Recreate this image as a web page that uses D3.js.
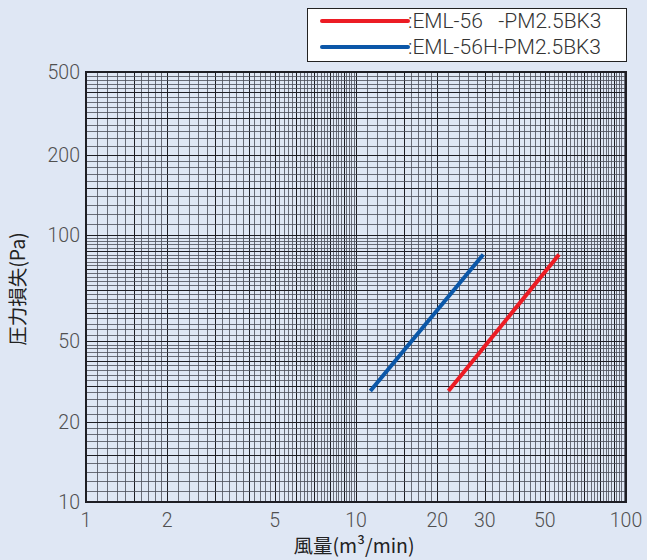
<!DOCTYPE html>
<html>
<head>
<meta charset="utf-8">
<script src="https://cdn.jsdelivr.net/npm/d3@7"></script>
<style>
  html, body { margin: 0; padding: 0; background: #dfe7f4; }
  svg { display: block; }
  .tick-label { font-family: Roboto, "Noto Sans", sans-serif; font-weight: 300; font-size: 19.5px; fill: #505050; }
  .axis-title { font-family: "Noto Sans CJK JP", sans-serif; font-size: 19.5px; fill: #222; }
  .legend-text { font-family: Roboto, "Noto Sans", sans-serif; font-weight: 300; font-size: 21px; fill: #333; }
</style>
</head>
<body>
<script>
// chart values
const xTicks = [1, 2, 5, 10, 20, 30, 50, 100]
const yTicks = [10, 20, 50, 100, 200, 500]
const seriesNames = [':EML-56\u00a0\u00a0\u00a0-PM2.5BK3', ':EML-56H-PM2.5BK3']
const seriesColors = ['#ec1c24', '#0b57a8']
const redFlow = [22.0, 56.5]
const redLoss = [28.4, 88]
const blueFlow = [11.3, 29.6]
const blueLoss = [28.4, 88]

const w = 647
const h = 560
const plotL = 86, plotR = 626, plotT = 72, plotB = 502

const svg = d3.select('body').append('svg')
    .attr('width', w)
    .attr('height', h)

svg.append('rect')
    .attr('width', w)
    .attr('height', h)
    .attr('fill', '#dfe7f4')

const x = d3.scaleLog()
    .domain([1, 100])
    .range([plotL, plotR])

// the printed paper is not quite even, so the y axis follows the labels
const y = d3.scaleLog()
    .domain(yTicks)
    .range([502, 422, 341, 235, 155, 72])

// graph paper lines
const paper = (lo, hi) => {
    const out = []
    for (let d = lo; d < hi; d *= 10) {
        for (let v = 1; v < 2 - 1e-9; v += 0.1) out.push({ v: +(v * d).toPrecision(4), m: Math.abs(v * 2 - Math.round(v * 2)) < 1e-6 })
        for (let v = 2; v < 10 - 1e-9; v += 0.2) out.push({ v: +(v * d).toPrecision(4), m: Math.abs(v * 2 - Math.round(v * 2)) < 1e-6 })
    }
    return out.filter(o => o.v > lo && o.v < hi)
}

const grid = svg.append('g')

grid.selectAll('.vx')
    .data(paper(1, 100))
    .enter()
    .append('line')
    .attr('x1', d => Math.round(x(d.v)) + 0.5)
    .attr('x2', d => Math.round(x(d.v)) + 0.5)
    .attr('y1', plotT)
    .attr('y2', plotB)
    .attr('stroke', d => d.m ? '#1e1e24' : '#4a4e58')
    .attr('stroke-opacity', d => d.m ? 1 : 0.8)
    .attr('stroke-width', 1)

grid.selectAll('.hy')
    .data(paper(10, 500))
    .enter()
    .append('line')
    .attr('y1', d => Math.round(y(d.v)) + 0.5)
    .attr('y2', d => Math.round(y(d.v)) + 0.5)
    .attr('x1', plotL)
    .attr('x2', plotR)
    .attr('stroke', d => d.m ? '#1e1e24' : '#4a4e58')
    .attr('stroke-opacity', d => d.m ? 1 : 0.8)
    .attr('stroke-width', 1)

svg.append('rect')
    .attr('x', plotL)
    .attr('y', plotT)
    .attr('width', plotR - plotL)
    .attr('height', plotB - plotT)
    .attr('fill', 'none')
    .attr('stroke', '#1e1e24')
    .attr('stroke-width', 2)

// series
const line = d3.line()
    .x(d => x(d[0]))
    .y(d => y(d[1]))

const series = [
    d3.zip(redFlow, redLoss),
    d3.zip(blueFlow, blueLoss)
]

svg.selectAll('.series')
    .data(series)
    .enter()
    .append('path')
    .attr('d', line)
    .attr('fill', 'none')
    .attr('stroke', (d, i) => seriesColors[i])
    .attr('stroke-width', 4)

// tick labels
svg.selectAll('.xl')
    .data(xTicks)
    .enter()
    .append('text')
    .attr('class', 'tick-label')
    .attr('x', d => x(d))
    .attr('y', 527)
    .attr('text-anchor', 'middle')
    .text(d => d)

svg.selectAll('.yl')
    .data(yTicks)
    .enter()
    .append('text')
    .attr('class', 'tick-label')
    .attr('x', 80)
    .attr('y', d => y(d) + 7)
    .attr('text-anchor', 'end')
    .text(d => d)

svg.append('text')
    .attr('class', 'axis-title')
    .attr('x', 354)
    .attr('y', 553)
    .attr('text-anchor', 'middle')
    .text('風量(m³/min)')

svg.append('text')
    .attr('class', 'axis-title')
    .attr('transform', 'translate(25, 289) rotate(-90)')
    .attr('text-anchor', 'middle')
    .text('圧力損失(Pa)')

// legend
const legend = svg.append('g')

legend.append('rect')
    .attr('x', 307.5)
    .attr('y', 8.5)
    .attr('width', 319)
    .attr('height', 53)
    .attr('fill', '#fff')
    .attr('stroke', '#222')
    .attr('stroke-width', 1)

const items = legend.selectAll('.item')
    .data(seriesNames)
    .enter()
    .append('g')
    .attr('transform', (d, i) => `translate(322, ${21 + i * 26})`)

items.append('line')
    .attr('x1', 0)
    .attr('x2', 86)
    .attr('stroke', (d, i) => seriesColors[i])
    .attr('stroke-width', 4)
    .attr('stroke-linecap', 'round')

items.append('text')
    .attr('class', 'legend-text')
    .attr('x', 86)
    .attr('y', 7)
    .text(d => d)
</script>
</body>
</html>
